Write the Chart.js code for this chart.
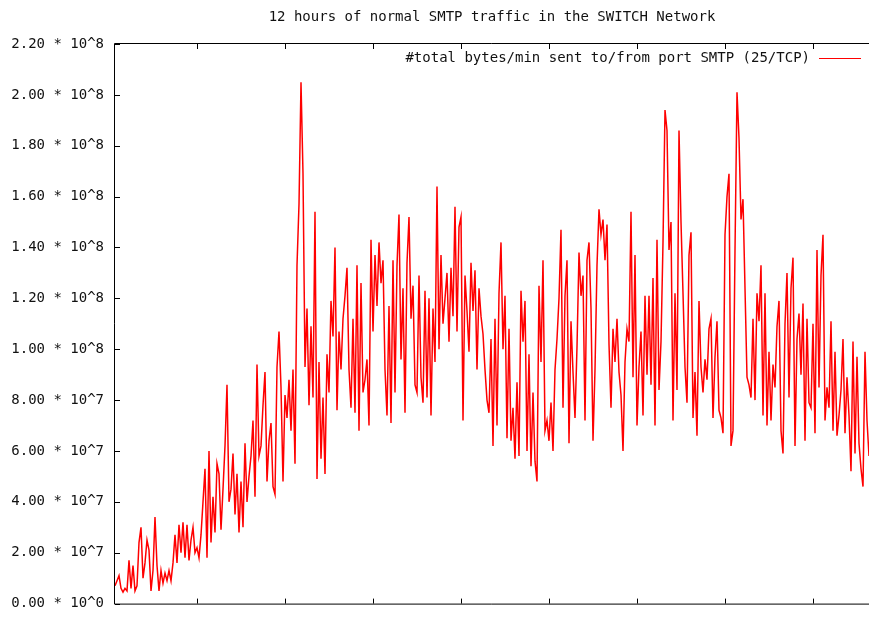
<!DOCTYPE html>
<html>
<head>
<meta charset="utf-8">
<title>SMTP traffic</title>
<script src="https://cdn.jsdelivr.net/npm/chart.js@4.4.1/dist/chart.umd.min.js"></script>
<style>
  html, body { margin: 0; padding: 0; background: #fff; }
  canvas { display: block; }
</style>
</head>
<body>
<canvas id="myChart" width="869" height="623"></canvas>
<script>
// Texte
const chartTitle = "12 hours of normal SMTP traffic in the SWITCH Network";
const seriesLabel = "#total bytes/min sent to/from port SMTP (25/TCP)";

// bytes/min in 10^6 (one sample every ~2px)
const bytesPerMin = [
    7, 9, 11, 6, 4.5, 6, 5, 17, 6, 15,
    5, 7, 24, 30, 10, 16, 25, 21, 5, 13,
    34, 15, 5, 13, 8, 12, 9, 13, 9, 16,
    27, 16, 31, 20, 32, 18, 31, 17, 25, 30,
    20, 22, 18, 27, 40, 53, 18, 60, 24, 42,
    28, 55, 51, 29, 45, 62, 86, 40, 45, 59,
    35, 51, 28, 48, 30, 63, 40, 50, 58, 72,
    42, 94, 58, 62, 78, 91, 48, 64, 71, 46,
    43, 93, 107, 85, 48, 82, 73, 88, 68, 92,
    55, 133, 157, 205, 169, 93, 116, 78, 109, 81,
    154, 49, 95, 57, 81, 51, 98, 83, 119, 105,
    140, 76, 107, 92, 112, 121, 132, 92, 77, 112,
    75, 133, 68, 126, 83, 88, 96, 70, 143, 107,
    137, 117, 142, 126, 135, 92, 74, 117, 71, 135,
    83, 133, 153, 96, 124, 75, 134, 152, 112, 125,
    86, 83, 129, 89, 79, 123, 81, 120, 74, 116,
    95, 164, 100, 137, 110, 120, 130, 103, 132, 113,
    156, 107, 148, 152, 72, 129, 115, 99, 134, 115,
    131, 92, 124, 113, 106, 92, 80, 75, 104, 62,
    112, 70, 122, 142, 100, 121, 65, 108, 64, 77,
    57, 87, 58, 123, 103, 119, 60, 98, 54, 83,
    56, 48, 125, 95, 135, 68, 72, 64, 79, 60,
    92, 104, 120, 147, 77, 121, 135, 63, 111, 91,
    73, 101, 138, 121, 129, 72, 135, 142, 116, 64,
    92, 133, 155, 145, 151, 135, 149, 102, 77, 108,
    95, 112, 91, 82, 60, 95, 108, 103, 154, 89,
    137, 70, 93, 107, 74, 121, 90, 121, 86, 128,
    70, 143, 84, 103, 142, 194, 186, 139, 150, 72,
    122, 84, 186, 150, 122, 93, 79, 137, 146, 73,
    91, 66, 119, 93, 83, 96, 88, 108, 112, 73,
    97, 111, 76, 73, 67, 145, 160, 169, 62, 68,
    139, 201, 183, 151, 159, 124, 89, 86, 81, 112,
    80, 122, 111, 133, 74, 122, 70, 99, 72, 94,
    85, 109, 119, 68, 59, 110, 130, 81, 124, 136,
    62, 104, 114, 90, 118, 64, 112, 79, 77, 110,
    67, 139, 85, 129, 145, 72, 85, 77, 111, 68,
    99, 66, 74, 84, 104, 67, 89, 74, 52, 103,
    59, 97, 63, 53, 46, 99, 72, 58
];

// x ticks (sample index), no labels
const xTicks = [41, 85, 129, 173, 217, 261, 305, 349];

// y ticks in 10^6 and their labels
const yTicks = [0, 20, 40, 60, 80, 100, 120, 140, 160, 180, 200, 220];
const yTickLabels = [
    "0.00 * 10^0", "2.00 * 10^7", "4.00 * 10^7", "6.00 * 10^7",
    "8.00 * 10^7", "1.00 * 10^8", "1.20 * 10^8", "1.40 * 10^8",
    "1.60 * 10^8", "1.80 * 10^8", "2.00 * 10^8", "2.20 * 10^8"
];

const fontMono = '14px "DejaVu Sans Mono"';

// Rahmen, Ticks nach innen, Titel und Legende wie bei gnuplot
const gnuplotFrame = {
    id: "gnuplotFrame",
    afterDatasetsDraw(chart) {
        const ctx = chart.ctx;
        const a = chart.chartArea;
        const sx = chart.scales.x;
        const sy = chart.scales.y;
        ctx.save();
        ctx.strokeStyle = "#000";
        ctx.lineWidth = 1;
        ctx.beginPath();
        ctx.moveTo(a.right, a.top - 0.5);
        ctx.lineTo(a.left - 0.5, a.top - 0.5);
        ctx.lineTo(a.left - 0.5, a.bottom + 0.5);
        ctx.lineTo(a.right, a.bottom + 0.5);
        yTicks.forEach(v => {
            const y = Math.round(sy.getPixelForValue(v)) + 0.5;
            ctx.moveTo(a.left, y);
            ctx.lineTo(a.left + 5, y);
        });
        xTicks.forEach(v => {
            const x = Math.round(sx.getPixelForValue(v)) + 0.5;
            ctx.moveTo(x, a.bottom);
            ctx.lineTo(x, a.bottom - 5);
            ctx.moveTo(x, a.top);
            ctx.lineTo(x, a.top + 5);
        });
        ctx.stroke();

        ctx.fillStyle = "#111";
        ctx.font = fontMono;
        ctx.textBaseline = "middle";
        ctx.textAlign = "center";
        ctx.fillText(chartTitle, (a.left + a.right) / 2, 17);

        // legend: text right aligned, then the line sample
        ctx.textAlign = "right";
        ctx.fillText(seriesLabel, a.right - 59, 58);
        ctx.strokeStyle = "#ff0000";
        ctx.beginPath();
        ctx.moveTo(a.right - 50, 58.5);
        ctx.lineTo(a.right - 8, 58.5);
        ctx.stroke();
        ctx.restore();
    }
};

const myChart = new Chart(document.getElementById("myChart"), {
    type: "line",
    data: {
        datasets: [{
            label: seriesLabel,
            data: bytesPerMin.map((v, i) => ({ x: i, y: v })),
            borderColor: "#ff0000",
            borderWidth: 1.5,
            pointRadius: 0,
            tension: 0,
            fill: false
        }]
    },
    options: {
        responsive: false,
        animation: false,
        devicePixelRatio: 1,
        layout: { padding: { top: 44, left: 0, right: 0, bottom: 0 } },
        plugins: {
            legend: { display: false },
            title: { display: false },
            tooltip: { enabled: false }
        },
        scales: {
            x: {
                type: "linear",
                min: 0,
                max: bytesPerMin.length - 1,
                grid: { display: false, drawTicks: false },
                border: { display: false },
                ticks: { display: false },
                afterFit: s => { s.height = 10; }
            },
            y: {
                min: 0,
                max: 220,
                grid: { display: false, drawTicks: false },
                border: { display: false },
                ticks: {
                    stepSize: 20,
                    padding: 11,
                    color: "#111",
                    font: { family: "DejaVu Sans Mono", size: 14 },
                    callback: v => yTickLabels[yTicks.indexOf(v)]
                },
                afterFit: s => { s.width = 115; }
            }
        }
    },
    plugins: [gnuplotFrame]
});
</script>
</body>
</html>
